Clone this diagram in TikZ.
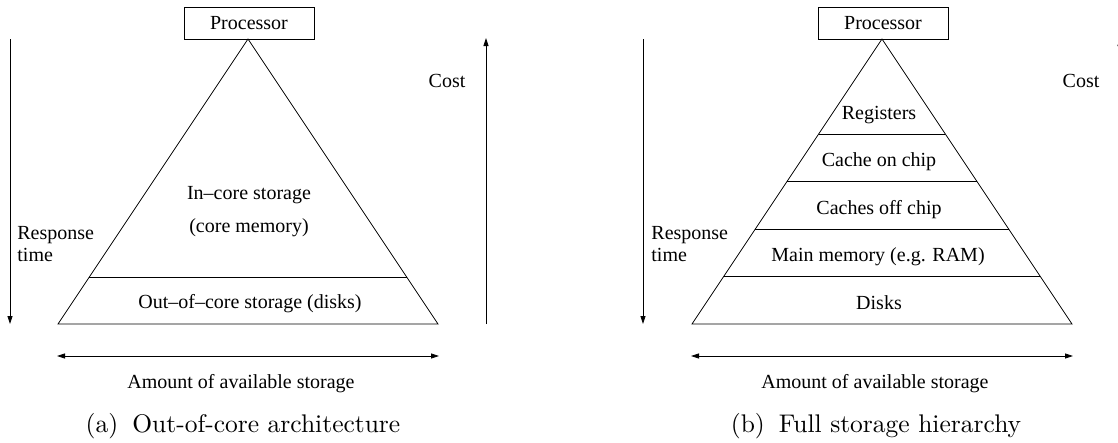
\documentclass[tikz,border=0pt]{standalone}
\usepackage{fontspec}
\newfontfamily\tms{Liberation Serif}
\newfontfamily\capfont{lmroman10-regular.otf}
\usetikzlibrary{arrows.meta}
\begin{document}
\begin{tikzpicture}[x=1pt,y=-1pt,line width=0.8pt,
  lbl/.style={font=\tms\fontsize{20}{22}\selectfont,inner sep=0pt},
  procbox/.style={draw,lbl,minimum width=130pt,minimum height=32pt},
  axis/.style={-{Triangle[length=8pt,width=5pt]}},
  daxis/.style={{Triangle[length=8pt,width=5pt]}-{Triangle[length=8pt,width=5pt]}},
  captext/.style={font=\capfont\fontsize{25.5}{30}\selectfont,inner sep=0pt}]
\useasboundingbox (0,0) rectangle (1118,442);

% ---------- (a) ----------
\node[procbox] (procA) at (249,23) {Processor};
\coordinate (apexA) at (248,39);
\coordinate (blA) at (58,324);
\coordinate (brA) at (438,324);
\draw (apexA) -- (brA) -- (blA) -- cycle;
\coordinate (dAl) at (89.3,277);
\coordinate (dAr) at (406.7,277);
\draw (dAl) -- (dAr);
\node[lbl,anchor=base] (incA) at (249,199) {In–core storage};
\node[lbl,anchor=base] (cmA) at (249,232) {(core memory)};
\node[lbl,anchor=base] (oocA) at (250,308) {Out–of–core storage (disks)};
\coordinate (rtAt) at (10,39);
\coordinate (rtAb) at (10,324);
\draw[axis] (rtAt) -- (rtAb);
\node[lbl,align=left,anchor=north west] (rtA) at (17,225.8) {Response\\time};
\coordinate (cAb) at (486,324);
\coordinate (cAt) at (486,38);
\draw[axis] (cAb) -- (cAt);
\node[lbl,anchor=base] (costA) at (447,87) {Cost};
\coordinate (hAl) at (57,356);
\coordinate (hAr) at (439,356);
\draw[daxis] (hAl) -- (hAr);
\node[lbl,anchor=base] (amA) at (241,388) {Amount of available storage};
\node[captext,anchor=base] (capA) at (243,432) {(a)\hspace*{0.55em}Out-of-core architecture};

% ---------- (b) ----------
\node[procbox] (procB) at (883,23) {Processor};
\coordinate (apexB) at (882,39);
\coordinate (blB) at (692,324);
\coordinate (brB) at (1072,324);
\draw (apexB) -- (brB) -- (blB) -- cycle;
\coordinate (d1l) at (818.7,134);   \coordinate (d1r) at (945.3,134);
\coordinate (d2l) at (787,181.5);   \coordinate (d2r) at (977,181.5);
\coordinate (d3l) at (755.3,229);   \coordinate (d3r) at (1008.7,229);
\coordinate (d4l) at (723.7,276.5); \coordinate (d4r) at (1040.3,276.5);
\draw (d1l) -- (d1r);
\draw (d2l) -- (d2r);
\draw (d3l) -- (d3r);
\draw (d4l) -- (d4r);
\node[lbl,anchor=base] (regB) at (879,119) {Registers};
\node[lbl,anchor=base] (conB) at (879,166.5) {Cache on chip};
\node[lbl,anchor=base] (cofB) at (879,214) {Caches off chip};
\node[lbl,anchor=base] (mmB) at (878,261.5) {Main memory (e.g. RAM)};
\node[lbl,anchor=base] (dkB) at (879,309) {Disks};
\coordinate (rtBt) at (643,39);
\coordinate (rtBb) at (643,324);
\draw[axis] (rtBt) -- (rtBb);
\node[lbl,align=left,anchor=north west] (rtB) at (651,225.8) {Response\\time};
\coordinate (cBb) at (1120,324);
\coordinate (cBt) at (1120,38);
\draw[axis] (cBb) -- (cBt);
\node[lbl,anchor=base] (costB) at (1081,87) {Cost};
\coordinate (hBl) at (691,356);
\coordinate (hBr) at (1073,356);
\draw[daxis] (hBl) -- (hBr);
\node[lbl,anchor=base] (amB) at (875,388) {Amount of available storage};
\node[captext,anchor=base] (capB) at (876,432) {(b)\hspace*{0.55em}Full storage hierarchy};
\end{tikzpicture}
\end{document}
